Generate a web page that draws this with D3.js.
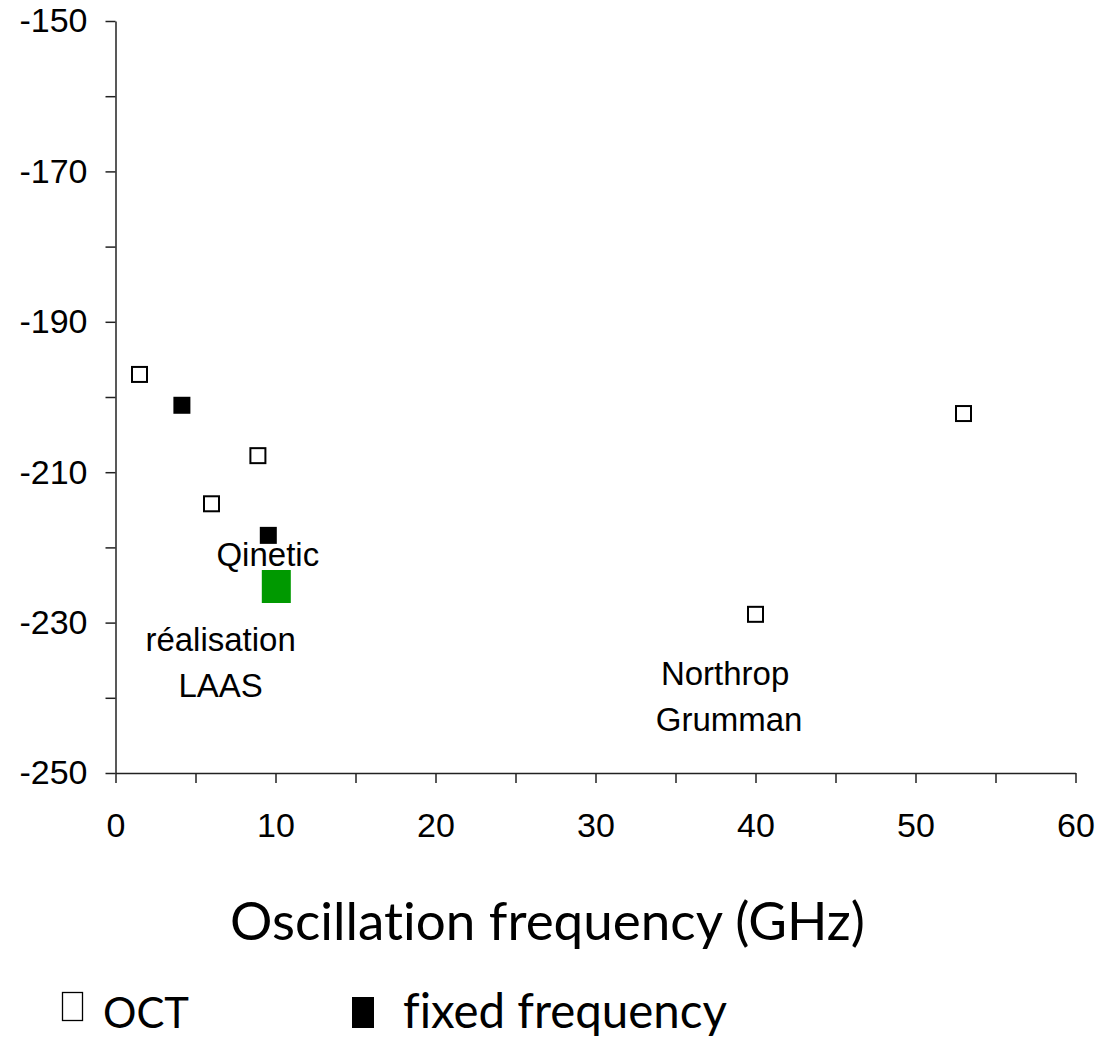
<!DOCTYPE html>
<html>
<head>
<meta charset="utf-8">
<script src="https://cdn.jsdelivr.net/npm/d3@7"></script>
<style>
  body { margin: 0; background: #fff; }
  svg { display: block; }
  .calib { font-variant-ligatures: none; }
</style>
</head>
<body>
<svg id="chart" width="1097" height="1037"></svg>
<script>
// data (GHz, noise figure)
const octFreq = [1.5, 6.0, 8.9, 40.0, 53.0];
const octNoise = [-197.0, -214.2, -207.8, -228.9, -202.2];
const fixedFreq = [4.15, 9.55];
const fixedNoise = [-201.1, -218.4];
const laasFreq = [10.05];
const laasNoise = [-225.2];

const xTicks = [0, 5, 10, 15, 20, 25, 30, 35, 40, 45, 50, 55, 60];
const yTicks = [-250, -240, -230, -220, -210, -200, -190, -180, -170, -160, -150];

// annotations, placed in data units
const noteText = [["Qinetic"], ["réalisation", "LAAS"], ["Northrop", "Grumman"]];
const noteFreq = [9.52, 6.57, 38.1];
const noteNoise = [-222.5, -233.8, -238.3];

const xTitle = "Oscillation frequency (GHz)";
const legendNames = ["OCT", "fixed frequency"];

let svg = d3.select("#chart"),
    margin = {top: 21, left: 115.5},
    w = 960, h = 752;

let g = svg.append("g")
    .attr("transform", "translate(" + margin.left + "," + margin.top + ")");

let x = d3.scaleLinear().domain([0, 60]).range([0, w]);
let y = d3.scaleLinear().domain([-250, -150]).range([h, 0]);

const numFont = "'Liberation Sans', Arial, sans-serif";

// axes
let yAxis = g.append("g")
    .call(d3.axisLeft(y).tickValues(yTicks).tickSize(10).tickSizeOuter(0).tickPadding(18)
        .tickFormat(d => (d - -150) % 20 == 0 ? d : ""));
let xAxis = g.append("g")
    .attr("transform", "translate(0," + h + ")")
    .call(d3.axisBottom(x).tickValues(xTicks).tickSize(10).tickSizeOuter(0).tickPadding(30)
        .tickFormat(d => d % 10 == 0 ? d : ""));

[xAxis, yAxis].forEach(a => {
    a.selectAll("path, line").attr("stroke", "#222").attr("stroke-width", 1.5);
    a.selectAll("text").attr("font-family", numFont).attr("font-size", 34).attr("fill", "#000");
});

// points
let oct = octFreq.map((f, i) => ({f: f, n: octNoise[i]}));
let fixed = fixedFreq.map((f, i) => ({f: f, n: fixedNoise[i]}));
let laas = laasFreq.map((f, i) => ({f: f, n: laasNoise[i]}));

g.selectAll(".oct").data(oct).enter().append("rect")
    .attr("x", d => x(d.f) - 7.5)
    .attr("y", d => y(d.n) - 7.5)
    .attr("width", 15).attr("height", 15)
    .attr("fill", "#fff").attr("stroke", "#000").attr("stroke-width", 2);

g.selectAll(".fixed").data(fixed).enter().append("rect")
    .attr("x", d => x(d.f) - 8.5)
    .attr("y", d => y(d.n) - 8.5)
    .attr("width", 17).attr("height", 17)
    .attr("fill", "#000");

g.selectAll(".laas").data(laas).enter().append("rect")
    .attr("x", d => x(d.f) - 14.5)
    .attr("y", d => y(d.n) - 16.5)
    .attr("width", 29).attr("height", 33)
    .attr("fill", "#009900");

// annotations
noteText.forEach((lines, i) => {
    let t = g.append("text")
        .attr("x", x(noteFreq[i]))
        .attr("y", y(noteNoise[i]))
        .attr("text-anchor", "middle")
        .attr("font-family", numFont)
        .attr("font-size", 33)
        .attr("fill", "#000");
    lines.forEach((s, j) => {
        t.append("tspan")
            .attr("x", x(noteFreq[i]) + (i == 2 && j == 1 ? 4 : 0))
            .attr("dy", j == 0 ? 0 : 46)
            .text(s);
    });
});

// x title and legend, calibri-like
const bodyFont = "Lato, 'Open Sans', sans-serif";

function fitWidth(sel, target) {
    let len = sel.node().getComputedTextLength();
    let fs = +sel.attr("font-size");
    sel.attr("font-size", fs * target / len);
    return fs * target / len;
}

let title = svg.append("text")
    .attr("class", "calib")
    .attr("x", 547.5).attr("y", 940)
    .attr("text-anchor", "middle")
    .attr("font-family", bodyFont)
    .attr("font-size", 50)
    .text(xTitle);
fitWidth(title, 635);

let leg = svg.append("g");
leg.append("rect")
    .attr("x", 62.5).attr("y", 992.5).attr("width", 20).attr("height", 28)
    .attr("fill", "none").attr("stroke", "#000").attr("stroke-width", 1.3);
leg.append("rect")
    .attr("x", 352).attr("y", 997).attr("width", 22).attr("height", 31)
    .attr("fill", "#000");

let t1 = leg.append("text")
    .attr("class", "calib")
    .attr("x", 103).attr("y", 1028)
    .attr("font-family", bodyFont)
    .attr("font-size", 44)
    .text(legendNames[0]);
fitWidth(t1, 86);
let t2 = leg.append("text")
    .attr("class", "calib")
    .attr("x", 403).attr("y", 1028)
    .attr("font-family", bodyFont)
    .attr("font-size", 44)
    .text(legendNames[1]);
fitWidth(t2, 324);
</script>
</body>
</html>
